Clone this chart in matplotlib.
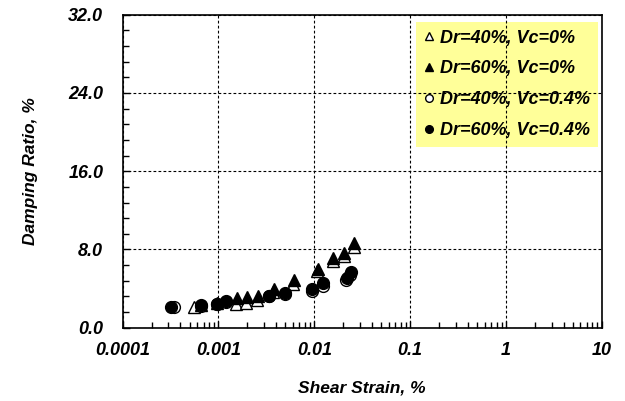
import matplotlib
matplotlib.use('Agg')
import matplotlib.pyplot as plt
from matplotlib.ticker import MultipleLocator, LogLocator

plt.rcParams['font.family'] = ['Liberation Sans', 'DejaVu Sans']
plt.rcParams['font.weight'] = 'bold'
plt.rcParams['font.style'] = 'italic'

# Dr=40%, Vc=0%  (open triangles)
strain_d40_v0 = [0.00056, 0.00153, 0.00193, 0.00252, 0.0037, 0.0060, 0.0108, 0.0155, 0.0202, 0.0258]
damp_d40_v0 = [2.09, 2.42, 2.56, 2.80, 3.60, 4.50, 5.75, 6.80, 7.30, 8.30]
# Dr=60%, Vc=0%  (filled triangles)
strain_d60_v0 = [0.00066, 0.00096, 0.00156, 0.00198, 0.00258, 0.00379, 0.00614, 0.0109, 0.0157, 0.0204, 0.0259]
damp_d60_v0 = [2.30, 2.50, 2.99, 3.09, 3.24, 3.96, 4.86, 6.05, 7.08, 7.64, 8.66]
# Dr=40%, Vc=0.4%  (open circles)
strain_d40_v4 = [0.000343, 0.000652, 0.000957, 0.00121, 0.00339, 0.0050, 0.0094, 0.0122, 0.0215, 0.0238]
damp_d40_v4 = [2.10, 2.25, 2.40, 2.60, 3.20, 3.45, 3.80, 4.26, 4.83, 5.39]
# Dr=60%, Vc=0.4%  (filled circles)
strain_d60_v4 = [0.000323, 0.000652, 0.000957, 0.00121, 0.00339, 0.0050, 0.0094, 0.0122, 0.0219, 0.0240]
damp_d60_v4 = [2.07, 2.27, 2.45, 2.68, 3.26, 3.52, 3.93, 4.54, 5.08, 5.73]

y_ticks = [0, 8, 16, 24, 32]
x_ticks = [0.0001, 0.001, 0.01, 0.1, 1, 10]
x_ticklabels = ['0.0001', '0.001', '0.01', '0.1', '1', '10']

fig = plt.figure(figsize=(6.25, 4.01), dpi=100)
ax = fig.add_axes([0.1963, 0.1828, 0.7664, 0.7805])

ax.plot(strain_d40_v0, damp_d40_v0, ls='none', marker='^', ms=9, mfc='white', mec='black', mew=1.0,
        label='Dr=40%, Vc=0%', zorder=3)
ax.plot(strain_d60_v0, damp_d60_v0, ls='none', marker='^', ms=9, mfc='black', mec='black',
        label='Dr=60%, Vc=0%', zorder=4)
ax.plot(strain_d40_v4, damp_d40_v4, ls='none', marker='o', ms=8.5, mfc='white', mec='black', mew=1.0,
        label='Dr=40%, Vc=0.4%', zorder=5)
ax.plot(strain_d60_v4, damp_d60_v4, ls='none', marker='o', ms=8.5, mfc='black', mec='black',
        label='Dr=60%, Vc=0.4%', zorder=6)

ax.set_xscale('log')
ax.set_xlim(0.0001, 10)
ax.set_ylim(0, 32)
ax.set_xticks(x_ticks)
ax.set_xticklabels(x_ticklabels)
ax.xaxis.set_minor_locator(LogLocator(base=10, subs=range(2, 10)))
ax.set_yticks(y_ticks)
ax.set_yticklabels(['%.1f' % v for v in y_ticks])
ax.yaxis.set_minor_locator(MultipleLocator(1.6))

ax.tick_params(which='both', direction='in', top=False, right=False, width=1.0, color='black')
ax.tick_params(which='major', length=5)
ax.tick_params(which='minor', length=4)
ax.tick_params(axis='y', pad=14, labelsize=13)
ax.tick_params(axis='x', pad=10, labelsize=13)

ax.set_axisbelow(False)
ax.grid(True, which='major', color='black', ls=(0, (2.5, 2)), lw=0.8)
for s in ax.spines.values():
    s.set_linewidth(1.2)
    s.set_color('black')

ax.set_xlabel('Shear Strain, %', fontsize=12.5, fontweight='bold', labelpad=16)
ax.set_ylabel('Damping Ratio, %', fontsize=12.5, fontweight='bold', labelpad=22)

leg = ax.legend(loc='upper right', bbox_to_anchor=(0.993, 0.978), borderaxespad=0,
                markerscale=0.65, handlelength=0.6, handletextpad=0.3,
                labelspacing=0.76, borderpad=0.45, fancybox=False, frameon=True,
                prop={'size': 13, 'weight': 'bold', 'style': 'italic'})
leg.get_frame().set_facecolor('#ffff99')
leg.get_frame().set_edgecolor('none')
leg.get_frame().set_alpha(1.0)
leg.set_zorder(1)

fig.savefig('out.png', dpi=100)
